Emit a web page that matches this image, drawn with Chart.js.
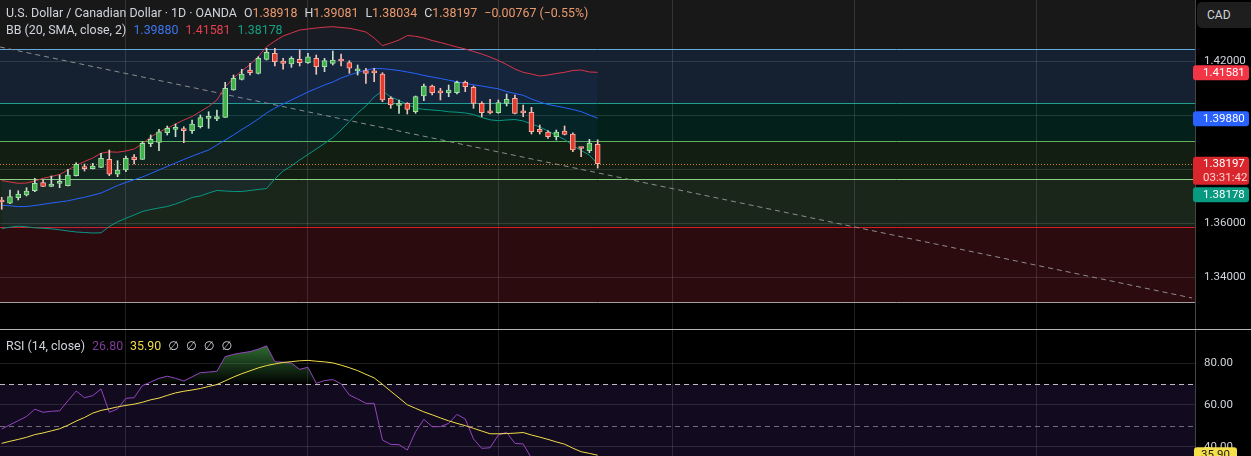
<!DOCTYPE html>
<html>
<head>
<meta charset="utf-8">
<title>USDCAD 1D</title>
<script src="https://cdn.jsdelivr.net/npm/chart.js@4.4.1/dist/chart.umd.min.js"></script>
<style>
  html, body { margin:0; padding:0; background:#000; }
  body { width:1251px; height:456px; position:relative; overflow:hidden; font-family: Roboto, "DejaVu Sans", sans-serif; }
  #mainChart { position:absolute; left:0; top:0; }
  #rsiChart { position:absolute; left:0; top:330px; }
  #sep { position:absolute; left:0; top:329px; width:1251px; height:1px; background:#b4b4b4; }
  .legend { position:absolute; left:6px; font-size:12.4px; color:#d1d4dc; white-space:nowrap; line-height:16px; }
  .legend .g { margin-left:7px; }
  #cad { position:absolute; left:1197px; top:2px; width:60px; height:26px; border-radius:5px; background:#1e1e1e; color:#d1d4dc; font-size:12px; line-height:26px; padding-left:10px; box-sizing:border-box; }
</style>
</head>
<body>
<canvas id="mainChart" width="1251" height="329"></canvas>
<div id="sep"></div>
<canvas id="rsiChart" width="1251" height="126"></canvas>
<div id="cad">CAD</div>
<div class="legend" id="l1" style="top:5px"></div>
<div class="legend" id="l2" style="top:22px"></div>
<div class="legend" id="l3" style="top:338px"></div>
<script>
// ---------------- DATA ----------------
const opens = [1.36852,1.36730,1.36937,1.37037,1.37196,1.37493,1.37359,1.37465,1.37381,1.37752,
  1.38037,1.38011,1.38063,1.38359,1.37804,1.37963,1.38444,1.38359,1.38937,1.38989,
  1.39344,1.39465,1.39470,1.39419,1.39567,1.39873,1.39852,1.39915,1.40926,1.41322,
  1.41667,1.41544,1.42063,1.42285,1.42000,1.41889,1.42063,1.41937,1.42100,1.41789,
  1.41915,1.42019,1.41937,1.41637,1.41641,1.41574,1.41519,1.40619,1.40359,1.40433,
  1.40122,1.40704,1.41074,1.40833,1.40826,1.40826,1.41211,1.41026,1.40433,1.40093,
  1.40085,1.40433,1.40619,1.40089,1.40100,1.39470,1.39370,1.39196,1.39407,1.39296,
  1.38770,1.38678,1.38918];
const highs = [1.36952,1.37222,1.37196,1.37307,1.37656,1.37593,1.37741,1.37778,1.37989,1.38233,
  1.38185,1.38211,1.38581,1.38704,1.38307,1.38481,1.38530,1.39011,1.39259,1.39470,
  1.39593,1.39667,1.39567,1.39815,1.40000,1.40122,1.40185,1.41211,1.41481,1.41693,
  1.41915,1.42159,1.42470,1.42470,1.42100,1.42159,1.42407,1.42285,1.42222,1.42100,
  1.42370,1.42259,1.42011,1.41852,1.41730,1.41730,1.41567,1.40678,1.40556,1.40456,
  1.40704,1.41148,1.41111,1.40989,1.41111,1.41259,1.41259,1.41074,1.40493,1.40581,
  1.40556,1.40778,1.40741,1.40370,1.40285,1.39630,1.39419,1.39444,1.39593,1.39344,
  1.38804,1.39100,1.39081];
const lows = [1.36507,1.36720,1.36852,1.37000,1.37159,1.37344,1.37344,1.37307,1.37370,1.37740,
  1.37926,1.38000,1.38050,1.37752,1.37715,1.37900,1.38185,1.38350,1.38826,1.38678,
  1.39259,1.39196,1.38974,1.39322,1.39519,1.39507,1.39789,1.39905,1.40915,1.41296,
  1.41481,1.41519,1.42037,1.41815,1.41693,1.41767,1.41815,1.41915,1.41507,1.41604,
  1.41852,1.41815,1.41544,1.41481,1.41174,1.41233,1.40493,1.40248,1.40063,1.40037,
  1.40063,1.40530,1.40741,1.40556,1.40678,1.40778,1.40863,1.40248,1.39937,1.40037,
  1.40063,1.40333,1.40037,1.39937,1.39296,1.39296,1.39137,1.39074,1.39259,1.38641,
  1.38456,1.38604,1.38034];
const closes = [1.36778,1.36974,1.37074,1.37185,1.37470,1.37359,1.37444,1.37475,1.37778,1.38174,
  1.38011,1.38111,1.38396,1.37804,1.37963,1.38396,1.38344,1.38952,1.39100,1.39381,
  1.39507,1.39475,1.39419,1.39667,1.39900,1.39883,1.39937,1.40989,1.41359,1.41519,
  1.41567,1.42100,1.42322,1.41974,1.41915,1.42100,1.41937,1.42159,1.41789,1.42011,
  1.42037,1.42000,1.41730,1.41648,1.41544,1.41563,1.40556,1.40370,1.40433,1.40211,
  1.40678,1.41074,1.40826,1.40822,1.40926,1.41211,1.41048,1.40433,1.40085,1.40081,
  1.40456,1.40581,1.40063,1.40081,1.39381,1.39370,1.39196,1.39370,1.39285,1.38704,
  1.38759,1.38964,1.38197];
const bbUpper = [1.37574,1.37519,1.37470,1.37481,1.37556,1.37656,1.37722,1.37796,1.37963,1.38137,
  1.38278,1.38407,1.38585,1.38637,1.38622,1.38667,1.38741,1.38937,1.39185,1.39370,
  1.39507,1.39667,1.39815,1.39944,1.40130,1.40315,1.40556,1.41037,1.41370,1.41630,
  1.41870,1.42163,1.42530,1.42741,1.42926,1.43037,1.43148,1.43185,1.43222,1.43252,
  1.43270,1.43241,1.43211,1.43148,1.43074,1.42852,1.42567,1.42667,1.42778,1.42944,
  1.42915,1.42852,1.42759,1.42685,1.42604,1.42519,1.42444,1.42352,1.42259,1.42148,
  1.42019,1.41870,1.41704,1.41581,1.41519,1.41444,1.41481,1.41537,1.41581,1.41648,
  1.41667,1.41593,1.41581];
const bbBasis = [1.36659,1.36637,1.36607,1.36611,1.36648,1.36693,1.36741,1.36778,1.36822,1.36889,
  1.36952,1.37030,1.37111,1.37248,1.37389,1.37500,1.37604,1.37704,1.37833,1.37963,
  1.38093,1.38222,1.38352,1.38474,1.38593,1.38704,1.38889,1.39074,1.39259,1.39459,
  1.39648,1.39852,1.40074,1.40259,1.40407,1.40556,1.40704,1.40852,1.40981,1.41111,
  1.41222,1.41370,1.41481,1.41574,1.41667,1.41722,1.41715,1.41685,1.41648,1.41593,
  1.41537,1.41463,1.41407,1.41352,1.41289,1.41230,1.41174,1.41119,1.41074,1.41019,
  1.40970,1.40870,1.40796,1.40730,1.40593,1.40481,1.40389,1.40333,1.40270,1.40204,
  1.40126,1.40000,1.39880];
const bbLower = [1.35796,1.35844,1.35881,1.35859,1.35822,1.35804,1.35785,1.35748,1.35704,1.35667,
  1.35648,1.35630,1.35637,1.35870,1.36044,1.36174,1.36296,1.36426,1.36500,1.36556,
  1.36611,1.36704,1.36815,1.36944,1.37000,1.37111,1.37204,1.37185,1.37167,1.37167,
  1.37204,1.37241,1.37278,1.37630,1.37926,1.38111,1.38333,1.38537,1.38741,1.38944,
  1.39167,1.39444,1.39759,1.40074,1.40333,1.40667,1.40896,1.40667,1.40537,1.40396,
  1.40248,1.40211,1.40185,1.40163,1.40119,1.40104,1.40074,1.40019,1.39907,1.39822,
  1.39789,1.39815,1.39833,1.39778,1.39667,1.39556,1.39407,1.39241,1.39093,1.38870,
  1.38685,1.38519,1.38178];
const rsiValues = [48.5,50.5,52.5,54.5,58.0,56.5,57.0,57.2,62.0,66.7,
  63.5,64.5,67.7,56.5,58.1,63.2,63.5,69.3,71.0,72.8,
  73.8,72.8,71.5,73.5,75.5,75.8,76.2,83.2,84.3,85.0,
  85.6,86.8,88.4,80.8,80.5,80.1,77.1,78.1,70.4,71.7,
  72.2,70.2,64.8,62.9,60.8,60.8,43.2,41.1,41.0,38.4,
  47.2,53.1,49.6,49.6,51.2,55.5,53.3,43.7,39.2,39.5,
  45.6,46.9,41.6,41.3,34.5,33.0,31.5,30.5,31.0,29.5,
  30.5,33.0,26.8];
const rsiMA = [41.6,42.6,43.5,44.5,45.8,46.6,47.6,48.6,50.3,52.3,
  54.0,56.1,57.4,58.2,59.1,59.8,60.4,61.3,62.5,63.3,
  64.6,65.8,66.6,67.2,67.9,68.9,69.8,71.6,73.4,75.0,
  76.4,77.8,78.9,79.7,80.4,80.8,81.2,81.4,81.0,80.7,
  80.2,79.1,77.9,76.5,74.7,73.0,69.9,66.6,63.4,60.1,
  58.4,56.7,55.3,53.8,52.4,51.2,50.1,48.8,47.5,46.2,
  46.2,46.3,46.5,46.8,45.6,44.6,43.5,42.3,41.2,39.3,
  37.6,36.8,35.9];
const priceTicks = [1.34, 1.36, 1.38, 1.40, 1.42];
const rsiTicks = [40, 60, 80];
const monthGridBars = [15, 37, 60, 81, 103, 125];
const zoneLevels = [1.42444, 1.40444, 1.39037, 1.37619, 1.35863, 1.33074];
const rsiBands = [70, 50, 30];
const trendBars = [-0.2, 143.8];
const trendPrices = [1.42519, 1.33222];
const countdown = '03:31:42';

// ---------------- STYLE ----------------
const STYLE = {
  grid: 'rgba(255,255,255,0.12)',
  axisText: '#d1d4dc',
  axisBorder: '#444444',
  topFill: '#181818',
  zoneFills: ['#152130', '#03201b', '#111e11', '#1b261b', '#2c0b0f'],
  zoneLines: ['#62a9dc', '#22a08e', '#5fb35c', '#8ccf87', '#d3202c', '#a0a0a0'],
  upBody: '#3fb34a', upBorder: '#a8dcaa', upWick: '#c5e1c6',
  dnBody: '#e53a2c', dnBorder: '#f7b2a8', dnWick: '#f2c0b4',
  bbUp: '#d8354a', bbMid: '#2962ff', bbLow: '#089981',
  bbFill: 'rgba(41,98,255,0.06)',
  lastPrice: '#d9783f',
  trend: '#8c8c8c',
  rsi: '#9444bf', rsiMA: '#f2dd4a',
  rsiBand: '#120a1e',
  font: 'Roboto, "DejaVu Sans", sans-serif'
};

const N = closes.length, last = N - 1;
const idx = closes.map((_, i) => i);
const isUp = i => closes[i] >= opens[i];
const pts = arr => arr.map((v, i) => ({ x: i, y: v }));
const f5 = v => v.toFixed(5);
const badgeValues = [bbUpper[last], bbBasis[last], closes[last]];

// ---------------- LEGENDS (real text) ----------------
const chg = closes[last] - closes[last - 1];
const pct = chg / closes[last - 1] * 100;
const vc = '#eb9a70';
document.getElementById('l1').innerHTML =
  'U.S. Dollar / Canadian Dollar · 1D · OANDA' +
  `<span class="g">O<span style="color:${vc}">${f5(opens[last])}</span></span>` +
  `<span class="g">H<span style="color:${vc}">${f5(highs[last])}</span></span>` +
  `<span class="g">L<span style="color:${vc}">${f5(lows[last])}</span></span>` +
  `<span class="g">C<span style="color:${vc}">${f5(closes[last])}</span></span>` +
  `<span class="g" style="color:${vc}">${(chg < 0 ? '\u2212' : '+') + Math.abs(chg).toFixed(5)} (${(pct < 0 ? '\u2212' : '+') + Math.abs(pct).toFixed(2)}%)</span>`;
document.getElementById('l2').innerHTML =
  'BB (20, SMA, close, 2)' +
  `<span class="g" style="color:#3d74ee">${f5(bbBasis[last])}</span>` +
  `<span class="g" style="color:#e0404f">${f5(bbUpper[last])}</span>` +
  `<span class="g" style="color:#13a085">${f5(bbLower[last])}</span>`;
document.getElementById('l3').innerHTML =
  'RSI (14, close)' +
  `<span class="g" style="color:#7d3c98">${rsiValues[last].toFixed(2)}</span>` +
  `<span class="g" style="color:#f0dc46">${rsiMA[last].toFixed(2)}</span>` +
  '<span class="g">\u2205</span><span class="g">\u2205</span><span class="g">\u2205</span><span class="g">\u2205</span>';

// ---------------- helpers ----------------
function badge(ctx, x, top, w, h, bg, lines, colors, align) {
  ctx.fillStyle = bg;
  ctx.beginPath();
  if (ctx.roundRect) ctx.roundRect(x, top, w, h, 3); else ctx.rect(x, top, w, h);
  ctx.fill();
  ctx.font = '11.5px ' + STYLE.font;
  ctx.textBaseline = 'middle';
  ctx.textAlign = align === 'center' ? 'center' : 'left';
  lines.forEach((t, k) => {
    ctx.fillStyle = colors[k];
    ctx.fillText(t, align === 'center' ? x + w / 2 : x + 10, top + 7.5 + k * 14);
  });
}

function noPad(s) { s.paddingTop = 0; s.paddingBottom = 0; s.paddingLeft = 0; s.paddingRight = 0; }

const xScale = {
  type: 'linear', min: -0.205, max: 144.16, offset: false,
  grid: { color: STYLE.grid, drawTicks: false, offset: false },
  border: { display: false },
  ticks: { display: false },
  afterBuildTicks: s => { s.ticks = monthGridBars.map(v => ({ value: v })); },
  afterFit: s => { s.height = 0; noPad(s); }
};

// ---------------- MAIN CHART ----------------
const zonesPlugin = {
  id: 'zones',
  beforeDraw(chart) {
    const { ctx, chartArea: a, scales: { y } } = chart;
    ctx.save();
    const t = y.getPixelForValue(zoneLevels[0]);
    ctx.fillStyle = STYLE.topFill;
    ctx.fillRect(a.left, a.top, a.right - a.left, t - a.top);
    for (let k = 0; k < zoneLevels.length - 1; k++) {
      const y1 = y.getPixelForValue(zoneLevels[k]);
      const y2 = y.getPixelForValue(zoneLevels[k + 1]);
      ctx.fillStyle = STYLE.zoneFills[k];
      ctx.fillRect(a.left, y1, a.right - a.left, y2 - y1);
    }
    ctx.restore();
  },
  beforeDatasetsDraw(chart) {
    const { ctx, chartArea: a, scales: { y } } = chart;
    ctx.save();
    ctx.lineWidth = 1;
    zoneLevels.forEach((lv, k) => {
      const py = Math.round(y.getPixelForValue(lv)) + 0.5;
      ctx.strokeStyle = STYLE.zoneLines[k];
      ctx.beginPath(); ctx.moveTo(a.left, py); ctx.lineTo(a.right, py); ctx.stroke();
    });
    const lp = Math.round(y.getPixelForValue(closes[last])) + 0.5;
    ctx.strokeStyle = STYLE.lastPrice;
    ctx.setLineDash([1, 2]);
    ctx.beginPath(); ctx.moveTo(a.left, lp); ctx.lineTo(a.right, lp); ctx.stroke();
    ctx.restore();
  }
};

const badgePlugin = {
  id: 'badges',
  afterDraw(chart) {
    const { ctx, chartArea: a, scales: { y } } = chart;
    const items = [
      { v: bbUpper[last], bg: '#f23645', lines: [f5(bbUpper[last])], colors: ['#ffffff'] },
      { v: bbBasis[last], bg: '#2962ff', lines: [f5(bbBasis[last])], colors: ['#ffffff'] },
      { v: closes[last], bg: '#d9262c', lines: [f5(closes[last]), countdown], colors: ['#ffffff', '#ffd0d0'] },
      { v: bbLower[last], bg: '#089981', lines: [f5(bbLower[last])], colors: ['#ffffff'] }
    ].map(it => ({ ...it, py: y.getPixelForValue(it.v) })).sort((p, q) => p.py - q.py);
    ctx.save();
    let prevBottom = -1e9;
    items.forEach(it => {
      const h = it.lines.length === 2 ? 28 : 15;
      let top = it.py - 7;
      if (top < prevBottom + 2.5) top = prevBottom + 2.5;
      badge(ctx, a.right - 2, top, 56, h, it.bg, it.lines, it.colors);
      prevBottom = top + h;
    });
    ctx.restore();
  }
};

new Chart(document.getElementById('mainChart'), {
  type: 'line',
  data: {
    datasets: [
      {
        type: 'bar', label: 'body',
        data: idx.map(i => ({ x: i, y: [opens[i], closes[i]] })),
        backgroundColor: c => isUp(c.dataIndex) ? STYLE.upBody : STYLE.dnBody,
        borderColor: c => isUp(c.dataIndex) ? STYLE.upBorder : STYLE.dnBorder,
        borderWidth: 1, borderSkipped: false, barThickness: 5, minBarLength: 2,
        grouped: false, order: 0
      },
      {
        type: 'bar', label: 'wick',
        data: idx.map(i => ({ x: i, y: [lows[i], highs[i]] })),
        backgroundColor: c => isUp(c.dataIndex) ? STYLE.upWick : STYLE.dnWick,
        borderWidth: 0, barThickness: 1, grouped: false, order: 1
      },
      {
        label: 'upper', data: pts(bbUpper), borderColor: STYLE.bbUp, borderWidth: 1,
        pointRadius: 0, tension: 0,
        fill: { target: 4, above: STYLE.bbFill, below: STYLE.bbFill }, order: 3
      },
      { label: 'basis', data: pts(bbBasis), borderColor: STYLE.bbMid, borderWidth: 1, pointRadius: 0, fill: false, order: 3 },
      { label: 'lower', data: pts(bbLower), borderColor: STYLE.bbLow, borderWidth: 1, pointRadius: 0, fill: false, order: 3 },
      {
        label: 'trend', data: trendBars.map((b, k) => ({ x: b, y: trendPrices[k] })),
        borderColor: STYLE.trend, borderWidth: 1, borderDash: [5, 4], pointRadius: 0, fill: false, order: 4
      }
    ]
  },
  options: {
    responsive: false, animation: false, events: [],
    layout: { padding: 0 },
    plugins: { legend: { display: false }, tooltip: { enabled: false } },
    scales: {
      x: xScale,
      y: {
        type: 'linear', position: 'right', min: 1.320741, max: 1.442593,
        grid: { color: STYLE.grid, drawTicks: false },
        border: { color: STYLE.axisBorder },
        ticks: {
          color: STYLE.axisText, font: { family: STYLE.font, size: 11.5 }, padding: 9,
          callback: v => badgeValues.some(b => Math.abs(b - v) < 0.003) ? '' : Number(v).toFixed(5)
        },
        afterBuildTicks: s => { s.ticks = priceTicks.map(v => ({ value: v })); },
        afterFit: s => { s.width = 56; noPad(s); }
      }
    }
  },
  plugins: [zonesPlugin, badgePlugin]
});

// ---------------- RSI CHART ----------------
function rsiGrad(chart) {
  const { ctx, chartArea, scales } = chart;
  if (!chartArea || !scales.y) return 'rgba(0,0,0,0)';
  const g = ctx.createLinearGradient(0, scales.y.getPixelForValue(100), 0, scales.y.getPixelForValue(70));
  g.addColorStop(0, 'rgba(76,175,80,1)');
  g.addColorStop(1, 'rgba(76,175,80,0)');
  return g;
}

const rsiBgPlugin = {
  id: 'rsiBg',
  beforeDraw(chart) {
    const { ctx, chartArea: a, scales: { y } } = chart;
    const y1 = y.getPixelForValue(rsiBands[0]);
    const y2 = y.getPixelForValue(rsiBands[2]);
    ctx.save();
    ctx.fillStyle = STYLE.rsiBand;
    ctx.fillRect(a.left, y1, a.right - a.left, Math.min(y2, a.bottom) - y1);
    ctx.restore();
  },
  beforeDatasetsDraw(chart) {
    const { ctx, chartArea: a, scales: { y } } = chart;
    ctx.save();
    ctx.lineWidth = 1;
    ctx.setLineDash([5, 4]);
    [[rsiBands[0], 'rgba(220,220,220,0.85)'], [rsiBands[1], 'rgba(140,140,150,0.75)']].forEach(([v, c]) => {
      const py = Math.round(y.getPixelForValue(v)) + 0.5;
      ctx.strokeStyle = c;
      ctx.beginPath(); ctx.moveTo(a.left, py); ctx.lineTo(a.right, py); ctx.stroke();
    });
    ctx.restore();
  },
  afterDraw(chart) {
    const { ctx, chartArea: a, scales: { y } } = chart;
    ctx.save();
    const py = y.getPixelForValue(rsiMA[last]);
    badge(ctx, a.right - 1, py - 8, 43, 16, '#f5e04a', [rsiMA[last].toFixed(2)], ['#1a1a1a'], 'center');
    ctx.restore();
  }
};

new Chart(document.getElementById('rsiChart'), {
  type: 'line',
  data: {
    datasets: [
      {
        label: 'RSI', data: pts(rsiValues), borderColor: STYLE.rsi, borderWidth: 1, pointRadius: 0, tension: 0,
        backgroundColor: c => rsiGrad(c.chart),
        fill: { target: { value: 70 }, below: 'rgba(0,0,0,0)' }, order: 1
      },
      { label: 'MA', data: pts(rsiMA), borderColor: STYLE.rsiMA, borderWidth: 1, pointRadius: 0, tension: 0, fill: false, order: 0 }
    ]
  },
  options: {
    responsive: false, animation: false, events: [],
    layout: { padding: 0 },
    plugins: { legend: { display: false }, tooltip: { enabled: false } },
    scales: {
      x: xScale,
      y: {
        type: 'linear', position: 'right', min: 35.54, max: 95.97,
        grid: { color: STYLE.grid, drawTicks: false },
        border: { color: STYLE.axisBorder },
        ticks: { color: STYLE.axisText, font: { family: STYLE.font, size: 11.5 }, padding: 9, callback: v => Number(v).toFixed(2) },
        afterBuildTicks: s => { s.ticks = rsiTicks.map(v => ({ value: v })); },
        afterFit: s => { s.width = 56; noPad(s); }
      }
    }
  },
  plugins: [rsiBgPlugin]
});
</script>
</body>
</html>
